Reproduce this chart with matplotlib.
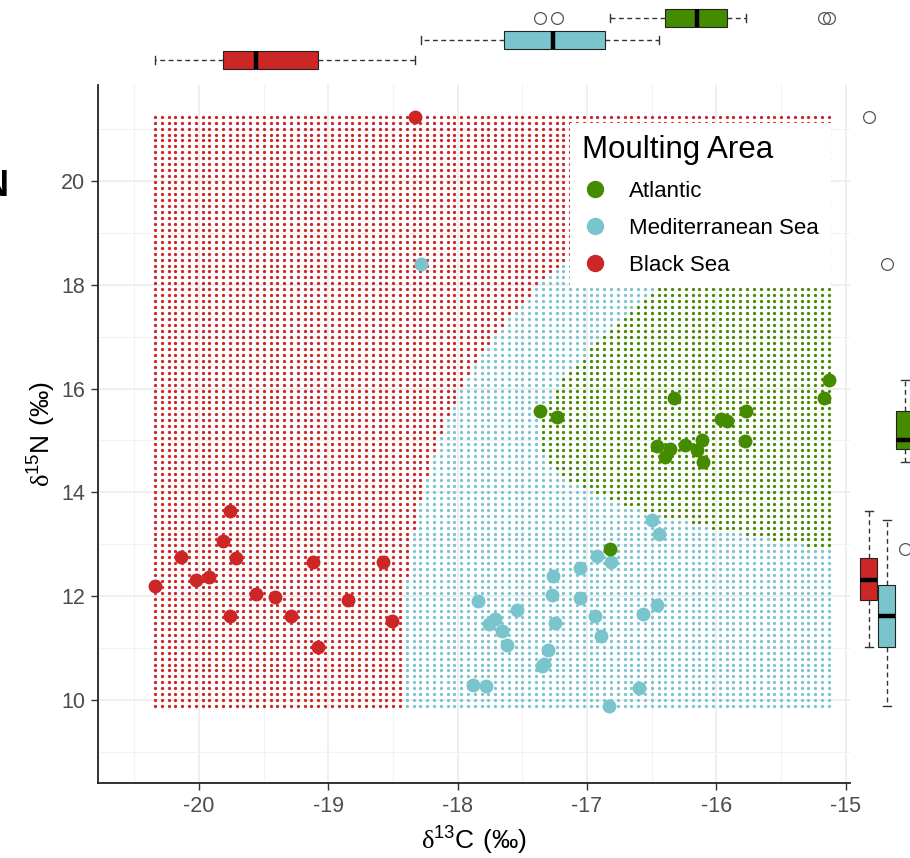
import numpy as np
import matplotlib
matplotlib.use("Agg")
import matplotlib.pyplot as plt
from matplotlib.lines import Line2D

plt.rcParams['font.family'] = ['Liberation Sans', 'DejaVu Sans']
plt.rcParams['mathtext.fontset'] = 'custom'
plt.rcParams['mathtext.rm'] = 'Liberation Serif'
plt.rcParams['mathtext.sf'] = 'Liberation Sans'

# moulting areas and their colours
areas = ['Atlantic', 'Mediterranean Sea', 'Black Sea']
colours = ['#458B00', '#7AC5CD', '#CD2626']

# isotope values
atl_c13 = [-15.13, -15.17, -16.33, -17.36, -17.23, -15.77, -15.96, -15.92, -15.78,
           -16.46, -16.36, -16.24, -16.11, -16.15, -16.40, -16.10, -16.82]
atl_n15 = [16.17, 15.82, 15.82, 15.57, 15.45, 15.57, 15.42, 15.37, 14.99,
           14.90, 14.84, 14.92, 15.00, 14.81, 14.68, 14.58, 12.91]

med_c13 = [-16.50, -16.44, -16.92, -16.81, -17.05, -17.26, -17.27, -17.05, -17.84,
           -17.54, -16.46, -16.57, -16.94, -17.71, -17.76, -17.25, -17.66, -16.89,
           -17.62, -17.30, -17.33, -17.35, -17.88, -17.78, -16.60, -16.83, -18.28]
med_n15 = [13.47, 13.19, 12.78, 12.65, 12.55, 12.39, 12.03, 11.97, 11.90,
           11.73, 11.83, 11.65, 11.62, 11.56, 11.47, 11.48, 11.32, 11.24,
           11.06, 10.97, 10.69, 10.66, 10.29, 10.27, 10.24, 9.88, 18.40]

blk_c13 = [-20.34, -20.14, -20.02, -19.92, -19.76, -19.81, -19.71, -19.76, -19.56,
           -19.41, -19.29, -19.12, -19.08, -18.85, -18.58, -18.51, -18.33]
blk_n15 = [12.20, 12.75, 12.32, 12.36, 13.65, 13.07, 12.73, 11.62, 12.04,
           11.99, 11.62, 12.66, 11.02, 11.93, 12.66, 11.53, 21.24]

groups = [(np.array(atl_c13), np.array(atl_n15)),
          (np.array(med_c13), np.array(med_n15)),
          (np.array(blk_c13), np.array(blk_n15))]


def qda_predict(px, py):
    """quadratic discriminant analysis, priors from group sizes"""
    n_tot = sum(len(g[0]) for g in groups)
    scores = []
    for gx, gy in groups:
        X = np.column_stack([gx, gy])
        mu = X.mean(axis=0)
        S = np.cov(X, rowvar=False)
        Si = np.linalg.inv(S)
        D = np.column_stack([px, py]) - mu
        m = np.einsum('ij,jk,ik->i', D, Si, D)
        scores.append(-0.5 * np.log(np.linalg.det(S)) - 0.5 * m + np.log(len(gx) / n_tot))
    return np.argmax(np.array(scores), axis=0)


def fivenum_stats(v):
    """box stats like base R boxplot (Tukey hinges, 1.5 IQR)"""
    v = np.sort(np.asarray(v))
    n = len(v)
    n4 = np.floor((n + 3) / 2) / 2
    d = np.array([1, n4, (n + 1) / 2, n + 1 - n4, n])
    f = 0.5 * (v[np.floor(d).astype(int) - 1] + v[np.ceil(d).astype(int) - 1])
    iqr = f[3] - f[1]
    inside = v[(v >= f[1] - 1.5 * iqr) & (v <= f[3] + 1.5 * iqr)]
    out = v[(v < f[1] - 1.5 * iqr) | (v > f[3] + 1.5 * iqr)]
    return dict(med=f[2], q1=f[1], q3=f[3], whislo=inside.min(), whishi=inside.max(), fliers=out)


W, H = 910, 858
fig = plt.figure(figsize=(W / 100, H / 100), dpi=100)

# main panel, in pixels: left 98, right 850, top 85, bottom 783
ax = fig.add_axes([98 / W, (H - 783) / H, 752 / W, 698 / H])
xlim = (-20.78, -14.966)
ylim = (8.40, 21.85)
ax.set_xlim(xlim)
ax.set_ylim(ylim)

# classification grid (100 x 100 over the data range)
all_c = np.concatenate([g[0] for g in groups])
all_n = np.concatenate([g[1] for g in groups])
gx, gy = np.meshgrid(np.linspace(all_c.min(), all_c.max(), 100),
                     np.linspace(all_n.min(), all_n.max(), 100))
cls = qda_predict(gx.ravel(), gy.ravel())
for k, col in enumerate(colours):
    sel = cls == k
    ax.scatter(gx.ravel()[sel], gy.ravel()[sel], s=5.5, c=col, lw=0, zorder=2)

# observed birds
for k in [2, 1, 0]:
    ax.scatter(groups[k][0], groups[k][1], s=100, c=colours[k], lw=0, zorder=3)

ax.set_xticks(np.arange(-20, -14.5, 1))
ax.set_yticks(np.arange(10, 21, 2))
ax.set_xticks(np.arange(-20.5, -14.9, 1), minor=True)
ax.set_yticks(np.arange(9, 22, 2), minor=True)
ax.set_xticklabels([f'{v:g}' for v in np.arange(-20, -14.5, 1)])
ax.grid(True, which='major', color='#EBEBEB', lw=1.1, zorder=0)
ax.grid(True, which='minor', color='#F2F2F2', lw=0.8, zorder=0)
ax.set_axisbelow(True)
ax.tick_params(which='major', direction='out', length=5, width=1, color='#333333',
               labelsize=15.5, labelcolor='#4D4D4D', pad=4)
ax.tick_params(which='minor', length=0)
for s in ['top', 'right']:
    ax.spines[s].set_visible(False)
for s in ['left', 'bottom']:
    ax.spines[s].set_linewidth(1.3)
    ax.spines[s].set_color('#222222')

ax.set_xlabel(r'$\mathrm{δ}^{\mathsf{13}}\mathsf{C\ (‰)}$', fontsize=19, labelpad=5)
ax.set_ylabel(r'$\mathrm{δ}^{\mathsf{15}}\mathsf{N\ (‰)}$', fontsize=19, labelpad=3)

handles = [Line2D([], [], ls='', marker='o', ms=11.5, mfc=c, mec=c) for c in colours]
leg = ax.legend(handles, areas, title='Moulting Area', loc='upper left',
                bbox_to_anchor=(0.628, 0.946), frameon=True, fancybox=False,
                framealpha=1, edgecolor='none', facecolor='white',
                fontsize=16, title_fontsize=22.5, alignment='left',
                handletextpad=1.0, labelspacing=0.72, borderpad=0.55,
                borderaxespad=0, handlelength=1.1)
leg.set_zorder(5)

box_kw = dict(patch_artist=True, showfliers=True,
              boxprops=dict(edgecolor='#222222', linewidth=0.8),
              medianprops=dict(color='black', linewidth=3.2),
              whiskerprops=dict(color='#333333', linewidth=1.0, linestyle=(0, (3.5, 2.5))),
              capprops=dict(color='#333333', linewidth=1.0),
              flierprops=dict(marker='o', mfc='none', mec='#555555', ms=8.5, mew=0.9))

# marginal boxplots of d13C on top
axt = fig.add_axes([98 / W, (H - 80) / H, 752 / W, 80 / H])
axt.set_xlim(xlim)
axt.set_ylim(80, 0)
top_rows = [18, 40, 60]
stats = [fivenum_stats(g[0]) for g in groups]
bp = axt.bxp(stats, positions=top_rows, widths=18, vert=False, capwidths=8, **box_kw)
for patch, col in zip(bp['boxes'], colours):
    patch.set_facecolor(col)
axt.axis('off')

# marginal boxplots of d15N on the right
axr = fig.add_axes([852 / W, (H - 783) / H, 66 / W, 698 / H])
axr.set_xlim(852, 918)
axr.set_ylim(ylim)
right_cols = [905, 887, 869]
stats = [fivenum_stats(g[1]) for g in groups]
bp = axr.bxp(stats, positions=right_cols, widths=17, vert=True, capwidths=8, **box_kw)
for patch, col in zip(bp['boxes'], colours):
    patch.set_facecolor(col)
axr.axis('off')

# clipped panel letter from the neighbouring figure
fig.text(9 / W, (H - 196) / H, 'N', ha='right', va='baseline', fontsize=26,
         fontweight='bold', color='black')

fig.savefig('out.png', dpi=100)
